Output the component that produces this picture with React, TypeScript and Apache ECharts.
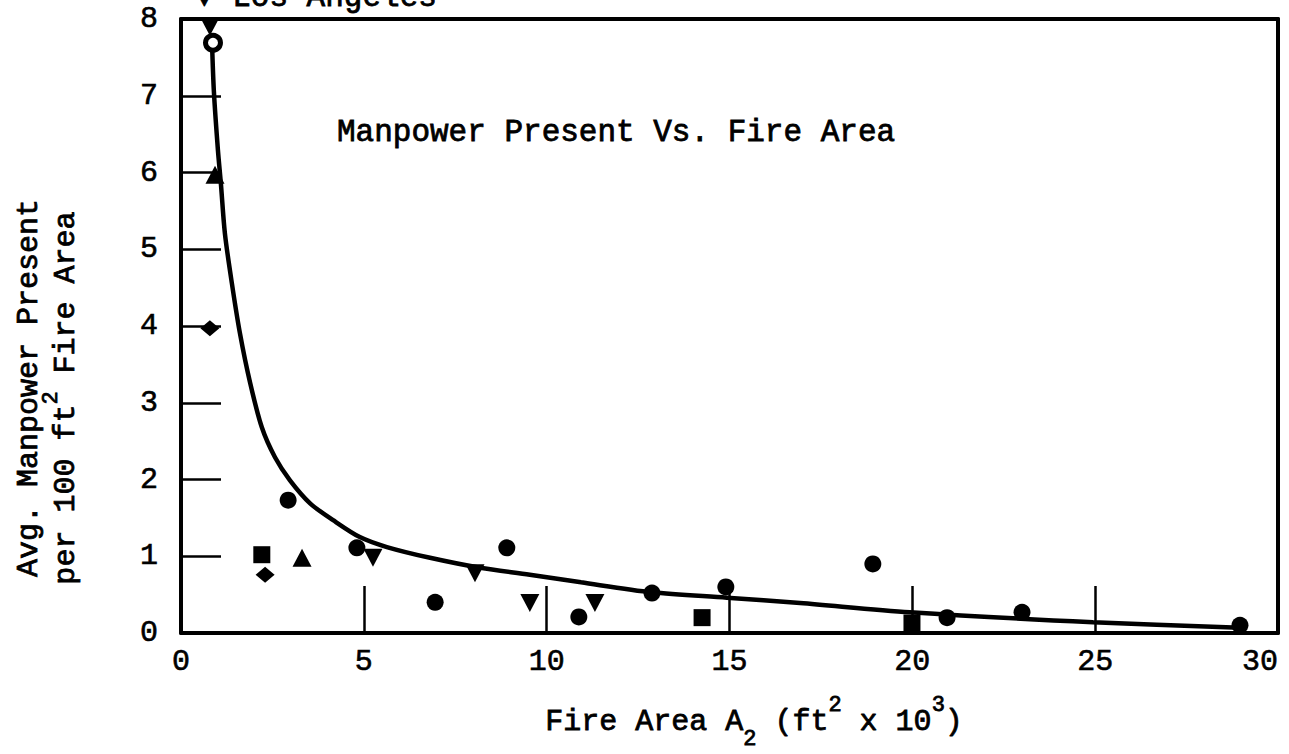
import React, { useEffect, useRef } from "react";
import * as echarts from "echarts";

// ---- data ----
const xTickValues = [0, 5, 10, 15, 20, 25, 30];
const yTickValues = [0, 1, 2, 3, 4, 5, 6, 7, 8];

const circleX = [2.93, 4.81, 6.95, 8.91, 10.88, 12.88, 14.9, 18.92, 20.95, 23.0, 28.96];
const circleY = [1.73, 1.11, 0.4, 1.11, 0.21, 0.52, 0.6, 0.9, 0.2, 0.27, 0.1];

const openCircleX = [0.875];
const openCircleY = [7.69];

const squareX = [2.21, 14.25, 19.99];
const squareY = [1.02, 0.2, 0.13];

const triUpX = [0.93, 3.31];
const triUpY = [5.97, 0.98];

const triDownX = [0.79, 5.25, 8.04, 9.54, 11.32];
const triDownY = [7.9, 0.98, 0.78, 0.39, 0.39];

const diamondX = [0.79, 2.3];
const diamondY = [3.97, 0.76];

const curveX = [0.85, 0.9, 1.01, 1.09, 1.2, 1.39, 1.61, 1.89, 2.21, 2.57, 2.98, 3.53, 4.16, 4.89, 5.63, 6.81, 8.18, 9.54, 10.94, 12.88, 14.93, 16.93, 19.93, 24.94, 28.96];
const curveY = [7.67, 7.05, 6.29, 5.86, 5.21, 4.56, 3.91, 3.26, 2.68, 2.29, 1.99, 1.69, 1.47, 1.25, 1.12, 0.98, 0.85, 0.76, 0.66, 0.53, 0.46, 0.39, 0.27, 0.14, 0.07];

const titleText = "Manpower Present Vs. Fire Area";
const topLegendText = "▼ Los Angeles";
const yNameLine1 = "Avg. Manpower Present";
const yNameLine2 = "per 100 ft{sup|2} Fire Area";
const xNameText = "Fire Area A{sub|2} (ft{sup|2} x 10{sup|3})";

const zip = (xs: number[], ys: number[]) => xs.map((x, i) => [x, ys[i]]);

const FONT = "'Liberation Mono', 'DejaVu Sans Mono', monospace";

export default function App() {
  const ref = useRef<HTMLDivElement>(null);

  useEffect(() => {
    if (!ref.current) return;
    const chart = echarts.init(ref.current, undefined, { renderer: "svg" });

    const markerStyle = { color: "#000", opacity: 1 };
    const thick = { stroke: "#000", lineWidth: 0.8 };

    const option: any = {
      animation: false,
      backgroundColor: "#fff",
      grid: { left: 181, right: 11, top: 19, bottom: 121, containLabel: false },
      xAxis: [
        {
          type: "value",
          min: 0,
          max: 30,
          interval: 5,
          axisLine: { show: true, lineStyle: { color: "#000", width: 4 } },
          axisTick: { show: true, inside: true, length: 47, lineStyle: { color: "#000", width: 2.5 } },
          axisLabel: {
            color: "#000",
            fontSize: 30,
            fontFamily: FONT,
            margin: 14,
            alignMaxLabel: "right",
            textBorderColor: "#000",
            textBorderWidth: 0.6,
            customValues: xTickValues,
          },
          splitLine: { show: false },
        },
        {
          type: "value",
          position: "top",
          min: 0,
          max: 30,
          axisLine: { show: true, onZero: false, lineStyle: { color: "#000", width: 4 } },
          axisTick: { show: false },
          axisLabel: { show: false },
          splitLine: { show: false },
        },
      ],
      yAxis: [
        {
          type: "value",
          min: 0,
          max: 8,
          interval: 1,
          axisLine: { show: true, lineStyle: { color: "#000", width: 4 } },
          axisTick: { show: true, inside: true, length: 40, lineStyle: { color: "#000", width: 2.5 } },
          axisLabel: {
            color: "#000",
            fontSize: 30,
            fontFamily: FONT,
            margin: 23,
            textBorderColor: "#000",
            textBorderWidth: 0.6,
            customValues: yTickValues,
          },
          splitLine: { show: false },
        },
        {
          type: "value",
          position: "right",
          min: 0,
          max: 8,
          axisLine: { show: true, onZero: false, lineStyle: { color: "#000", width: 4 } },
          axisTick: { show: false },
          axisLabel: { show: false },
          splitLine: { show: false },
        },
      ],
      series: [
        {
          name: "Fitted curve",
          type: "line",
          data: zip(curveX, curveY),
          smooth: 0.3,
          showSymbol: false,
          symbol: "none",
          lineStyle: { color: "#000", width: 4.5 },
          z: 2,
        },
        {
          name: "Circles",
          type: "scatter",
          data: zip(circleX, circleY),
          symbol: "circle",
          symbolSize: 17,
          itemStyle: markerStyle,
          z: 3,
        },
        {
          name: "Open circle",
          type: "scatter",
          data: zip(openCircleX, openCircleY),
          symbol: "circle",
          symbolSize: 15,
          itemStyle: { color: "#fff", borderColor: "#000", borderWidth: 5, opacity: 1 },
          z: 3,
        },
        {
          name: "Squares",
          type: "scatter",
          data: zip(squareX, squareY),
          symbol: "rect",
          symbolSize: 17,
          itemStyle: markerStyle,
          z: 3,
        },
        {
          name: "Triangles up",
          type: "scatter",
          data: zip(triUpX, triUpY),
          symbol: "triangle",
          symbolSize: [19, 18],
          itemStyle: markerStyle,
          z: 3,
        },
        {
          name: "Triangles down",
          type: "scatter",
          data: zip(triDownX, triDownY),
          symbol: "triangle",
          symbolRotate: 180,
          symbolSize: [19, 18],
          itemStyle: markerStyle,
          z: 3,
        },
        {
          name: "Diamonds",
          type: "scatter",
          data: zip(diamondX, diamondY),
          symbol: "diamond",
          symbolSize: [19, 16],
          itemStyle: markerStyle,
          z: 3,
        },
      ],
      graphic: [
        {
          type: "text",
          x: 337,
          y: 132,
          style: {
            text: titleText,
            fill: "#000",
            ...thick,
            fontSize: 31,
            fontFamily: FONT,
            align: "left",
            verticalAlign: "middle",
          },
        },
        {
          type: "text",
          x: 195,
          y: -3,
          style: {
            text: topLegendText,
            fill: "#000",
            ...thick,
            fontSize: 31,
            fontFamily: FONT,
            align: "left",
            verticalAlign: "middle",
          },
        },
        {
          type: "text",
          x: 29,
          y: 388,
          rotation: Math.PI / 2,
          style: {
            text: yNameLine1,
            fill: "#000",
            ...thick,
            fontSize: 30,
            fontFamily: FONT,
            align: "center",
            verticalAlign: "middle",
          },
        },
        {
          type: "text",
          x: 66,
          y: 398,
          rotation: Math.PI / 2,
          style: {
            text: yNameLine2,
            fill: "#000",
            ...thick,
            fontSize: 30,
            fontFamily: FONT,
            lineHeight: 52,
            align: "center",
            verticalAlign: "middle",
            rich: {
              sup: { fontSize: 22, fontFamily: FONT, fill: "#000", ...thick, verticalAlign: "top" },
            },
          },
        },
        {
          type: "text",
          x: 754,
          y: 722,
          style: {
            text: xNameText,
            fill: "#000",
            ...thick,
            fontSize: 30,
            fontFamily: FONT,
            lineHeight: 56,
            align: "center",
            verticalAlign: "middle",
            rich: {
              sup: { fontSize: 22, fontFamily: FONT, fill: "#000", ...thick, verticalAlign: "top" },
              sub: { fontSize: 22, fontFamily: FONT, fill: "#000", ...thick, verticalAlign: "bottom" },
            },
          },
        },
      ],
    };

    chart.setOption(option);
    return () => chart.dispose();
  }, []);

  return (
    <div
      ref={ref}
      style={{ position: "fixed", left: 0, top: 0, width: 1289, height: 754, background: "#fff" }}
    />
  );
}
